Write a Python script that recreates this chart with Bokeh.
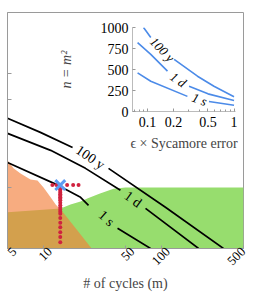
import math
from bokeh.plotting import figure
from bokeh.models import (Range1d, FixedTicker, NumeralTickFormatter, CustomJSTickFormatter,
                          LogAxis)
from bokeh.layouts import column
from bokeh.embed import file_html
from bokeh.resources import INLINE
from bokeh.core.properties import value

NAN = float("nan")
FONT = "Liberation Serif"

# ---------------- main panel data: m (# of cycles) vs eps ----------------
x_ticks = [5, 10, 50, 100, 500]
x_tick_labels = ["5", "10", "50", "100", "500"]
y_ticks = [0.05, 0.1, 1]

# black contour lines (NaN = gap for the inline label)
m_100y = [5.0, 9.5, 17.8, NAN, 35.9, 109, 338]
e_100y = [0.162, 0.235, 0.349, NAN, 0.606, 1.69, 4.99]
m_1d = [5.0, 11.6, 22.9, 45.3, NAN, 73.9, 208]
e_1d = [0.241, 0.377, 0.606, 1.08, NAN, 1.74, 4.99]
m_1s = [5.0, 13.5, 20.8, 24.3, NAN, 42.8, 81.5]
e_1s = [0.518, 0.949, 1.30, 1.61, NAN, 2.94, 4.99]

line_labels = ["100 y", "1 d", "1 s"]
label_m = [25.2, 57.9, 34.5]
label_e = [0.454, 1.37, 2.26]
label_angle = [-34, -36, -42]

# green region
m_green = [5.0, 14.1, 17.1, 20.8, 24.0, 30.0, 39.6, 50.0, 500, 500, 5.0]
e_green = [1.93, 1.74, 1.57, 1.45, 1.33, 1.18, 1.04, 1.0, 1.0, 5.0, 5.0]

# orange region
m_orange = [5.0, 5.62, 6.45, 7.83, 8.98, 10.1, 11.6, 12.8, 14.3, 19.2, 25.8, 5.0]
e_orange = [0.491, 0.606, 0.692, 0.81, 0.832, 1.0, 1.30, 1.565, 1.83, 3.02, 5.0, 5.0]

# red sample points
m_row = [12, 13, 16, 18, 20]
e_row = [0.94, 0.94, 0.94, 0.94, 0.94]
e_col = [0.94, 1.0, 1.05, 1.1, 1.15, 1.2, 1.25, 1.3, 1.35, 1.4, 1.5, 1.6, 1.7,
         1.8, 1.9, 2.0, 2.24, 2.53, 2.85, 3.25, 3.7, 4.23]
m_col = [14] * len(e_col)

# Sycamore point
m_syc = [14]
e_syc = [0.94]

# ---------------- inset data: n = m^2 vs eps ----------------
ix_ticks = [0.1, 0.2, 0.5, 1]
ix_minor = [0.07, 0.08, 0.09, 0.3, 0.4, 0.6, 0.7, 0.8, 0.9]
iy_ticks = [0, 250, 500, 750, 1000]

i_e_100y = [0.0899, 0.109, NAN, 0.203, 0.378, 0.586, 1.0]
i_n_100y = [1000, 880, NAN, 621, 420, 300, 175]
i_e_1d = [0.0767, 0.109, 0.170, NAN, 0.302, 0.5, 1.0]
i_n_1d = [820, 680, 480, NAN, 300, 210, 130]
i_e_1s = [0.0767, 0.109, 0.289, NAN, 0.513, 1.0]
i_n_1s = [460, 360, 180, NAN, 120, 75]

i_label_e = [0.148, 0.226, 0.40]
i_label_n = [738, 378, 144]
i_label_angle = [-45, -35, -20]

GREEN = "#97DD6E"
ORANGE = "#F37F3C"
RED = "#D0223F"
BLUE = "#5E9CF2"
ILINE = "#4C8BE8"
GRAY = "#9a9a9a"

blank = CustomJSTickFormatter(code="return ''")

X_LO, X_HI = 5, 500
FRAME_W = 236
p = figure(x_axis_type="log", y_axis_type="log",
           x_range=Range1d(X_LO, X_HI), y_range=Range1d(5, 0.01),
           width=255, height=298,
           min_border_left=7, min_border_top=12, min_border_right=12, min_border_bottom=50,
           output_backend="svg", toolbar_location=None)
p.grid.visible = False
p.outline_line_color = GRAY
p.background_fill_color = "white"

p.patch(m_green, e_green, fill_color=GREEN, line_color=None)
p.patch(m_orange, e_orange, fill_color=ORANGE, fill_alpha=0.65, line_color=None)

for mm, ee in [(m_100y, e_100y), (m_1d, e_1d), (m_1s, e_1s)]:
    p.line(mm, ee, line_color="black", line_width=1.7)
p.text(x=label_m, y=label_e, text=line_labels, angle=label_angle, angle_units="deg",
       text_font=value(FONT), text_font_size="14px", text_align="center",
       text_baseline="middle", text_color="black")

p.scatter(m_col, e_col, size=4, fill_color=RED, line_color=None)
p.scatter(m_row, e_row, size=4, fill_color=RED, line_color=None)
p.scatter(m_syc, e_syc, marker="x", size=14, line_width=3, line_color=BLUE)

# main x axis: tick marks only
xa = p.xaxis[0]
xa.ticker = FixedTicker(ticks=x_ticks, minor_ticks=[])
xa.formatter = blank
xa.major_label_standoff = 0
xa.major_label_text_font_size = "1px"
xa.major_tick_in = 3
xa.major_tick_out = 0
xa.axis_line_color = GRAY
xa.major_tick_line_color = GRAY

# label axis: same log scale, nudged so the rotated labels sit centred under the ticks;
# the last tick sits at the range end (no nudge possible there)
shift_px = 7
k = 10 ** (shift_px / FRAME_W * math.log10(X_HI / X_LO))
lab_lo, lab_hi = X_LO / k, X_HI / k
p.extra_x_ranges = {"lab": Range1d(lab_lo, lab_hi)}
lab_ticks = [t for t in x_ticks[:-1]] + [lab_hi * 0.9999]
lab_fmt = CustomJSTickFormatter(
    args=dict(lab_text=x_tick_labels, lab_vals=lab_ticks),
    code="""
    let best = 0;
    for (let i = 0; i < lab_vals.length; i++) {
        if (Math.abs(Math.log(lab_vals[i] / tick)) < Math.abs(Math.log(lab_vals[best] / tick))) best = i;
    }
    return lab_text[best];
    """)
lab = LogAxis(x_range_name="lab", ticker=FixedTicker(ticks=lab_ticks, minor_ticks=[]),
              formatter=lab_fmt,
              major_label_orientation=math.pi / 4, major_label_standoff=1,
              major_label_text_font=FONT, major_label_text_font_size="13px",
              major_label_text_color="black",
              axis_line_color=None, major_tick_line_color=None, minor_tick_line_color=None,
              major_tick_in=0, major_tick_out=0,
              axis_label="# of cycles (m)", axis_label_text_font=FONT,
              axis_label_text_font_style="normal", axis_label_text_font_size="14px",
              axis_label_standoff=4)
p.add_layout(lab, "below")

ya = p.yaxis[0]
ya.ticker = FixedTicker(ticks=y_ticks, minor_ticks=[])
ya.formatter = blank
ya.major_label_standoff = 0
ya.major_label_text_font_size = "1px"
ya.major_tick_in = 4
ya.major_tick_out = 0
ya.axis_line_color = GRAY
ya.major_tick_line_color = GRAY

# ---------------- inset ----------------
q = figure(x_axis_type="log", x_range=Range1d(0.067, 1.04), y_range=Range1d(0, 1000),
           width=209, height=140,
           min_border_left=90, min_border_top=10, min_border_right=16, min_border_bottom=46,
           output_backend="svg", toolbar_location=None,
           background_fill_alpha=0, border_fill_alpha=0)
q.grid.visible = False
q.outline_line_color = None
for ee, nn in [(i_e_100y, i_n_100y), (i_e_1d, i_n_1d), (i_e_1s, i_n_1s)]:
    q.line(ee, nn, line_color=ILINE, line_width=1.6)
q.text(x=i_label_e, y=i_label_n, text=line_labels, angle=i_label_angle, angle_units="deg",
       text_font=value(FONT), text_font_size="13px", text_font_style="italic",
       text_align="center", text_baseline="middle", text_color="black")

qx = q.xaxis[0]
qx.ticker = FixedTicker(ticks=ix_ticks, minor_ticks=ix_minor)
qx.formatter = NumeralTickFormatter(format="0.[0]")
qx.axis_line_color = "#bbbbbb"
qx.major_tick_line_color = "#999999"
qx.minor_tick_line_color = "#999999"
qx.major_tick_in = 3
qx.major_tick_out = 0
qx.minor_tick_in = 2
qx.minor_tick_out = 0
qx.major_label_standoff = 5
qx.major_label_text_font = FONT
qx.major_label_text_font_size = "14px"
qx.major_label_text_color = "black"
qx.axis_label = "ϵ × Sycamore error"
qx.axis_label_text_font = FONT
qx.axis_label_text_font_style = "normal"
qx.axis_label_text_font_size = "14px"
qx.axis_label_standoff = 6

qy = q.yaxis[0]
qy.ticker = FixedTicker(ticks=iy_ticks, minor_ticks=[])
qy.axis_line_color = "#bbbbbb"
qy.major_tick_line_color = "#999999"
qy.major_tick_in = 3
qy.major_tick_out = 0
qy.major_label_standoff = 4
qy.major_label_text_font = FONT
qy.major_label_text_font_size = "14px"
qy.major_label_text_color = "black"
qy.axis_label = "n = m²"
qy.axis_label_text_font = FONT
qy.axis_label_text_font_style = "italic"
qy.axis_label_text_font_size = "14px"
qy.axis_label_standoff = 24

inner = column(q, styles={"position": "absolute", "left": "42px", "top": "17px"})
layout = column(p, inner)

open("out.html", "w").write(file_html(layout, INLINE))
